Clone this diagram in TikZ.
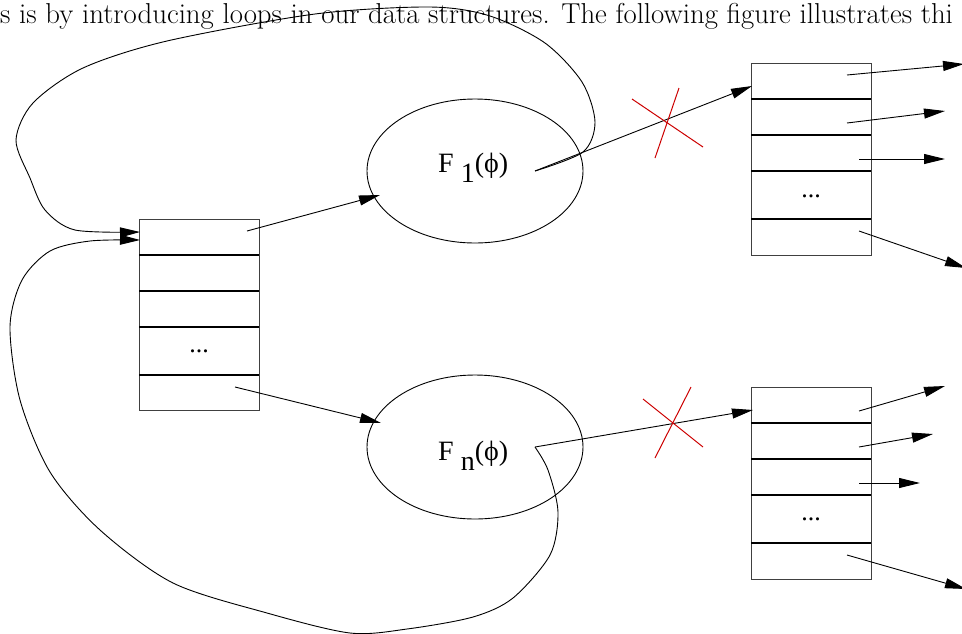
\documentclass[tikz,border=0pt]{standalone}
\usepackage{fontspec}
\newfontfamily\timesf{Liberation Serif}
\usetikzlibrary{shapes.geometric,arrows.meta}
\definecolor{xred}{RGB}{204,0,0}
\begin{document}
\begin{tikzpicture}[x=1pt,y=-1pt,
  tbl/.style={draw=black!75, line width=0.8pt, minimum width=120pt, inner sep=0pt},
  div/.style={line width=1.8pt},
  arr/.style={line width=0.9pt, -{Triangle[length=21pt,width=10pt]}},
  curv/.style={line width=0.9pt, -{Triangle[length=20pt,width=10pt]}},
  cross/.style={draw=xred, line width=1pt},
  lab/.style={font=\timesf\fontsize{28}{32}\selectfont, inner sep=0pt, anchor=base west},
  dotsl/.style={font=\timesf\fontsize{26}{30}\selectfont, inner sep=0pt, anchor=base},
  fn/.style={ellipse, draw, line width=0.9pt, minimum width=216pt, minimum height=144pt, inner sep=0pt}]
\useasboundingbox (0,0) rectangle (962,633);
\begin{scope}
\clip (0,0) rectangle (962,633);
% running text line
\node[anchor=base west, inner sep=0pt, font=\fontsize{28.8}{34}\selectfont] (txt) at (0,23)
  {s is by introducing loops in our data structures. The following figure illustrates thi};

% left table
\node[tbl, minimum height=191pt] (L) at (199,314.5) {};
\foreach \yy in {255,291,327,375} \draw[div] (139,\yy) -- (259,\yy);
\node[dotsl] (Ld) at (199,352) {...};

% right tables
\node[tbl, minimum height=192pt] (R1) at (811,159) {};
\foreach \yy in {99,135,171,219} \draw[div] (751,\yy) -- (871,\yy);
\node[dotsl] (R1d) at (811,197) {...};
\node[tbl, minimum height=192pt] (R2) at (811,483) {};
\foreach \yy in {423,459,495,543} \draw[div] (751,\yy) -- (871,\yy);
\node[dotsl] (R2d) at (811,520) {...};

% functions
\node[fn] (E1) at (475,171) {};
\node[fn] (En) at (475,447) {};
\node[lab] (l1) at (438,172) {F \raisebox{-10pt}{1}(ϕ)};
\node[lab] (ln) at (438,460) {F \raisebox{-10pt}{n}(ϕ)};

% named ends
\coordinate (L1) at (247,231);
\coordinate (L5) at (235,387);
\coordinate (E1in) at (380,195);
\coordinate (Enin) at (381,423);
\coordinate (o1) at (535,171);
\coordinate (on) at (535,447);
\coordinate (R1in) at (752,86);
\coordinate (R2in) at (753,410);
\coordinate (Lin1) at (140,232);
\coordinate (Lin2) at (140,240);

\draw[arr] (L1) -- (E1in);
\draw[arr] (L5) -- (Enin);
\draw[arr] (o1) -- (R1in);
\draw[arr] (on) -- (R2in);

% red crosses
\draw[cross] (632,99) -- (703,147);
\draw[cross] (679,88) -- (655,158);
\draw[cross] (643,399) -- (703,447);
\draw[cross] (691,387) -- (655,458);

% loops back to left table
\draw[curv] plot[smooth, tension=0.5] coordinates {(o1) (583,152) (595,122) (582,82) (545,43) (490,16) (430,7) (315,14) (167,41) (83,68) (33,103) (16,140) (30,178) (45,210) (75,230) (Lin1)};
\draw[curv] plot[smooth, tension=0.5] coordinates {(on) (548,470) (558,512) (550,555) (513,598) (473,617) (407,629) (350,633) (267,613) (173,583) (100,530) (50,472) (20,400) (10,327) (22,280) (50,251) (90,241) (Lin2)};

% outgoing pointers
\coordinate (a1) at (847,75);  \coordinate (b1) at (964,64);
\coordinate (a2) at (847,123); \coordinate (b2) at (945,111);
\coordinate (a3) at (859,159); \coordinate (b3) at (945,159);
\coordinate (a4) at (859,231); \coordinate (b4) at (966,268);
\coordinate (c1) at (859,411); \coordinate (d1) at (945,386);
\coordinate (c2) at (859,447); \coordinate (d2) at (933,434);
\coordinate (c3) at (859,483); \coordinate (d3) at (920,483);
\coordinate (c4) at (847,555); \coordinate (d4) at (966,589);
\foreach \s/\t in {a1/b1,a2/b2,a3/b3,a4/b4,c1/d1,c2/d2,c3/d3,c4/d4}
  \draw[arr] (\s) -- (\t);
\end{scope}
\end{tikzpicture}
\end{document}
